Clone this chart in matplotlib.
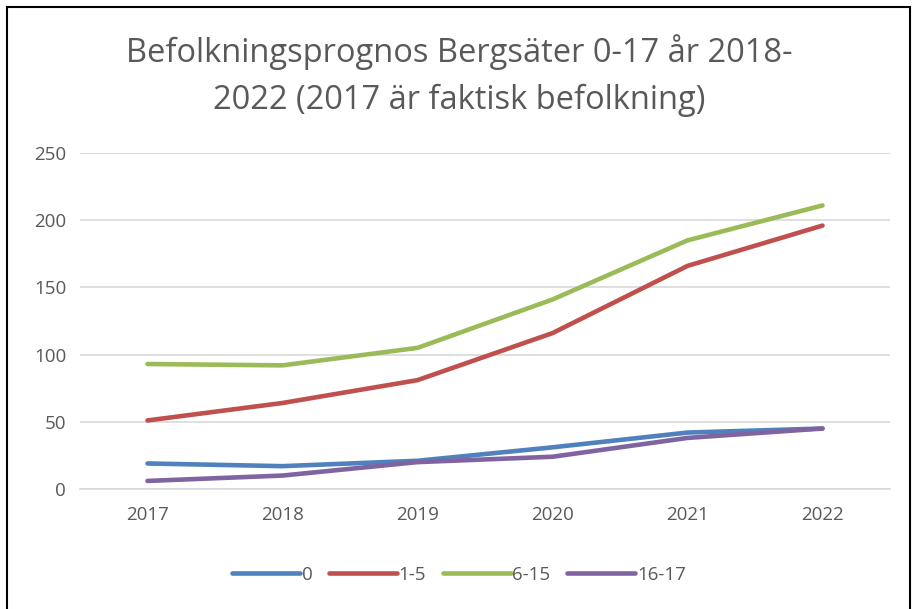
import matplotlib
matplotlib.use("Agg")
import matplotlib.pyplot as plt
from matplotlib.patches import Rectangle

years = ["2017", "2018", "2019", "2020", "2021", "2022"]
s_0 = [19, 17, 21, 31, 42, 45]
s_1_5 = [51, 64, 81, 116, 166, 196]
s_6_15 = [93, 92, 105, 141, 185, 211]
s_16_17 = [6, 10, 20, 24, 38, 45]
labels = ["0", "1-5", "6-15", "16-17"]
colors = ["#4F81BD", "#C0504D", "#9BBB59", "#8064A2"]

plt.rcParams['font.family'] = ['Open Sans', 'DejaVu Sans']
grey = "#595959"

fig = plt.figure(figsize=(9.18, 6.09), dpi=100)
ax = fig.add_axes([80/918, 1 - 489/609, 810/918, 336/609])

x = range(len(years))
for vals, lab, col in zip([s_0, s_1_5, s_6_15, s_16_17], labels, colors):
    ax.plot(x, vals, color=col, lw=3.3, label=lab, solid_capstyle='round')

ax.set_xlim(-0.5, len(years) - 0.5)
ax.set_ylim(0, 250)
ax.set_yticks(range(0, 251, 50))
ax.set_xticks(list(x))
ax.set_xticklabels(years)
ax.tick_params(axis='both', length=0, labelsize=13.5, colors=grey, pad=10)
ax.tick_params(axis='x', pad=12)
ax.grid(axis='y', color='#D9D9D9', lw=1.2)
ax.set_axisbelow(True)
for sp in ax.spines.values():
    sp.set_visible(False)
ax.spines['bottom'].set_visible(True)
ax.spines['bottom'].set_color('#D9D9D9')
ax.spines['bottom'].set_linewidth(1.2)

fig.text(0.5, 1 - 52/609, "Befolkningsprognos Bergsäter 0-17 år 2018-",
         ha='center', va='center', fontsize=23.5, color=grey)
fig.text(0.5, 1 - 100/609, "2022 (2017 är faktisk befolkning)",
         ha='center', va='center', fontsize=23.5, color=grey)

leg = fig.legend(loc='center', bbox_to_anchor=(0.5, 1 - 575/609), ncol=4,
                 frameon=False, fontsize=13.5, handlelength=3.6, handletextpad=0.1,
                 columnspacing=0.9)
for t in leg.get_texts():
    t.set_color(grey)

fig.patches.append(Rectangle((7/918, -0.02), 903/918, 1.02 - 7/609, transform=fig.transFigure,
                             fill=False, edgecolor='black', lw=1.5))

fig.savefig("out.png", dpi=100)
